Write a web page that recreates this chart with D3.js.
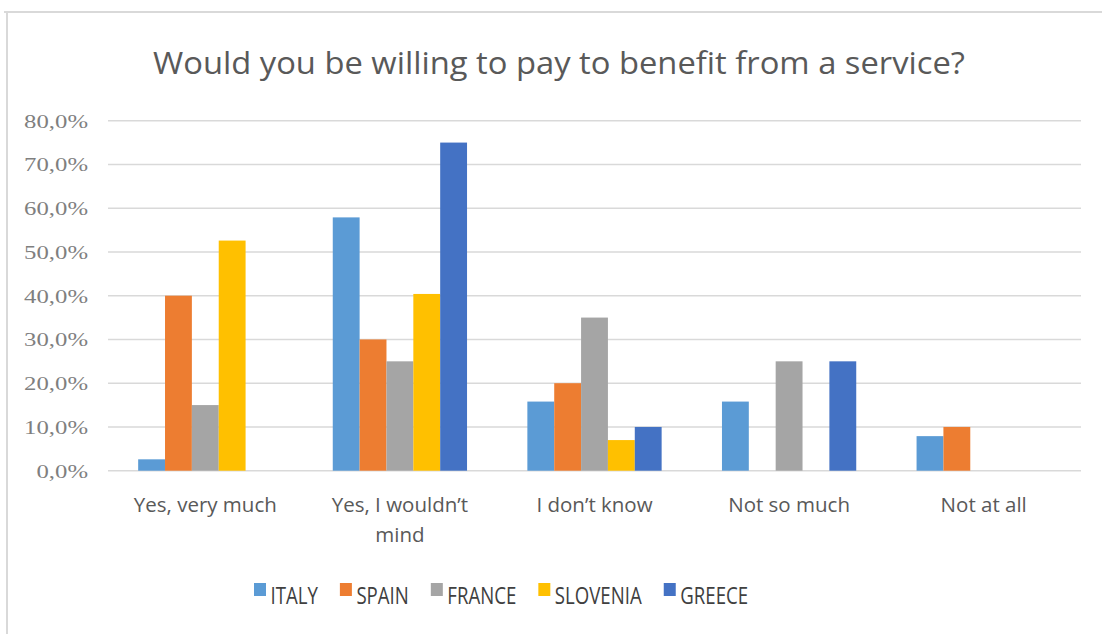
<!DOCTYPE html>
<html>
<head>
<meta charset="utf-8">
<script src="https://cdn.jsdelivr.net/npm/d3@7/dist/d3.min.js"></script>
<style>
  html, body { margin: 0; padding: 0; background: #fff; }
  svg { display: block; }
  text { font-family: "Open Sans", "DejaVu Sans", sans-serif; fill: #595959; }
</style>
</head>
<body>
<svg id="chart" width="1102" height="634"></svg>
<script>
// Survey answers per country (share of respondents, %)
const categories = ["Yes, very much", "Yes, I wouldn’t mind", "I don’t know", "Not so much", "Not at all"];
const countries = ["ITALY", "SPAIN", "FRANCE", "SLOVENIA", "GREECE"];
const italy    = [2.6, 57.9, 15.8, 15.8, 7.9];
const spain    = [40.0, 30.0, 20.0, 0, 10.0];
const france   = [15.0, 25.0, 35.0, 25.0, 0];
const slovenia = [52.6, 40.4, 7.0, 0, 0];
const greece   = [0, 75.0, 10.0, 25.0, 0];
const yTicks   = [0, 10, 20, 30, 40, 50, 60, 70, 80];
const titleText = "Would you be willing to pay to benefit from a service?";

const seriesValues = [italy, spain, france, slovenia, greece];
const colors = ["#5B9BD5", "#ED7D31", "#A5A5A5", "#FFC000", "#4472C4"];

const svg = d3.select("#chart");

// outer frame (top and left edges)
svg.append("line").attr("x1", 4).attr("x2", 1102).attr("y1", 12).attr("y2", 12)
  .attr("stroke", "#d9d9d9").attr("stroke-width", 2);
svg.append("line").attr("x1", 7).attr("x2", 7).attr("y1", 12).attr("y2", 634)
  .attr("stroke", "#d9d9d9").attr("stroke-width", 2);

const plot = { left: 108, right: 1081, top: 120.7, bottom: 470.7 };

const x0 = d3.scaleBand().domain(categories)
  .range([plot.left, plot.right]).paddingInner(0.31).paddingOuter(0.155);
const x1 = d3.scaleBand().domain(countries).range([0, x0.bandwidth()]);
const y = d3.scaleLinear().domain([0, 80]).range([plot.bottom, plot.top]);

// gridlines
svg.append("g").selectAll("line").data(yTicks).join("line")
  .attr("x1", plot.left).attr("x2", plot.right)
  .attr("y1", d => y(d)).attr("y2", d => y(d))
  .attr("stroke", "#d9d9d9").attr("stroke-width", 1.6);

// y-axis labels
const fmt = v => d3.format(".1f")(v).replace(".", ",") + "%";
svg.append("g").selectAll("g").data(yTicks).join("g")
  .attr("transform", d => `translate(88,${y(d)}) scale(1.27,1)`)
  .append("text")
  .attr("text-anchor", "end").attr("dy", "0.35em")
  .style("font-family", "'Liberation Serif', 'DejaVu Serif', serif")
  .style("font-size", "19.5px").style("fill", "#7f7f7f")
  .text(fmt);

// bars
const groups = svg.append("g").selectAll("g").data(categories).join("g")
  .attr("transform", d => `translate(${x0(d)},0)`);
groups.selectAll("rect")
  .data((c, i) => countries.map((k, s) => ({ key: k, s, v: seriesValues[s][i] })))
  .join("rect")
  .attr("x", d => x1(d.key)).attr("width", x1.bandwidth())
  .attr("y", d => y(d.v)).attr("height", d => y(0) - y(d.v))
  .attr("fill", d => colors[d.s]);

// category labels with word wrap
function wrapLines(words, maxW, measure) {
  const lines = []; let cur = "";
  words.forEach(w => {
    const t = cur ? cur + " " + w : w;
    if (cur && measure(t) > maxW) { lines.push(cur); cur = w; } else cur = t;
  });
  if (cur) lines.push(cur);
  return lines;
}
const catSize = "20.5px";
const probe = svg.append("text").style("font-size", catSize);
const measure = s => { probe.text(s); return probe.node().getComputedTextLength(); };
const catG = svg.append("g");
categories.forEach(c => {
  const lines = wrapLines(c.split(" "), 170, measure);
  const t = catG.append("text").attr("text-anchor", "middle")
    .attr("x", x0(c) + x0.bandwidth() / 2).attr("y", 512)
    .style("font-size", catSize);
  lines.forEach((l, i) => t.append("tspan")
    .attr("x", x0(c) + x0.bandwidth() / 2).attr("dy", i ? 30 : 0).text(l));
});
probe.remove();

// title
const title = svg.append("text").attr("x", 559).attr("y", 74)
  .attr("text-anchor", "middle").style("font-size", "31px").text(titleText);
title.attr("textLength", 812).attr("lengthAdjust", "spacingAndGlyphs");

// legend
const legend = svg.append("g").attr("transform", "translate(254,0)");
let lx = 0;
countries.forEach((k, s) => {
  legend.append("rect").attr("x", lx).attr("y", 583).attr("width", 12).attr("height", 13)
    .attr("fill", colors[s]);
  const t = legend.append("text").attr("x", lx + 16.5).attr("y", 604)
    .style("font-size", "23px").style("fill", "#404040").text(k);
  const w = t.node().getComputedTextLength() * 0.81;
  t.attr("textLength", w).attr("lengthAdjust", "spacingAndGlyphs");
  lx += 16.5 + w + 22;
});
</script>
</body>
</html>
